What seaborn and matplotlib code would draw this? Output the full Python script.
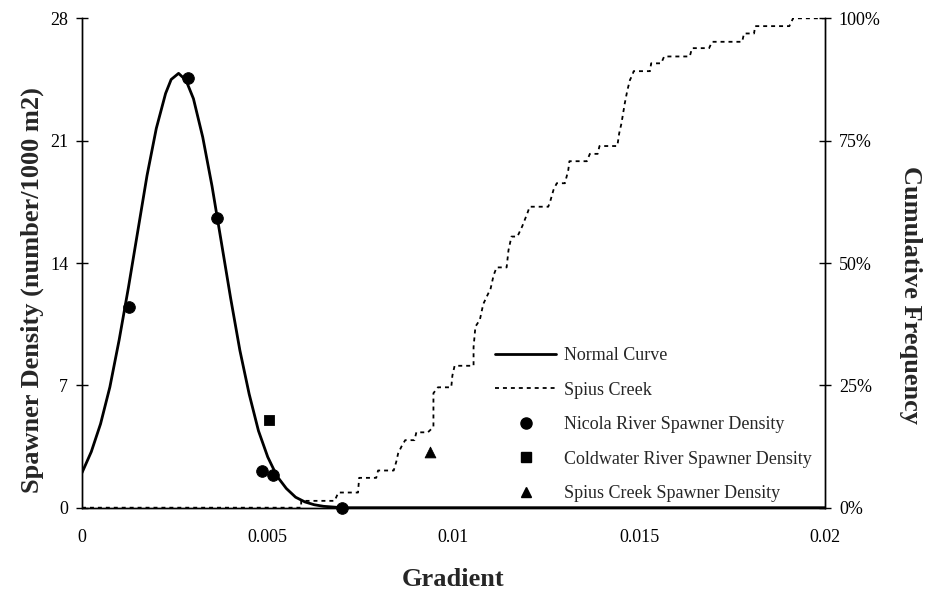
import matplotlib
matplotlib.use("Agg")
import matplotlib.pyplot as plt
import seaborn as sns
import pandas as pd
from matplotlib.lines import Line2D
from matplotlib.ticker import FuncFormatter

# ---------------- data ----------------
normal_x = [0, 0.00025, 0.0005, 0.00075, 0.001, 0.00125, 0.0015, 0.00175, 0.002,
            0.00225, 0.0024, 0.0026, 0.0028, 0.003, 0.00325, 0.0035, 0.00375, 0.004,
            0.00425, 0.0045, 0.00475, 0.005, 0.00525, 0.0055, 0.00575, 0.006,
            0.00625, 0.0065, 0.00675, 0.007, 0.02]
normal_y = [2.0, 3.2, 4.8, 6.9, 9.6, 12.6, 15.8, 19.0, 21.7,
            23.7, 24.5, 24.85, 24.45, 23.4, 21.2, 18.4, 15.2, 12.0,
            9.0, 6.5, 4.4, 2.9, 1.8, 1.1, 0.6, 0.33,
            0.17, 0.08, 0.04, 0.0, 0.0]

spius_gradient = [0, 0.0059, 0.0059, 0.0068, 0.0069, 0.00743, 0.00746, 0.00792, 0.00797, 0.00839,
                  0.00846, 0.00851, 0.0086, 0.0087, 0.00895, 0.0090, 0.00931, 0.00946, 0.00946, 0.00958,
                  0.00994, 0.00997, 0.01003, 0.01054, 0.01054, 0.01059, 0.01071, 0.0108, 0.011, 0.01108,
                  0.01116, 0.01143, 0.01148, 0.01156, 0.01172, 0.01185, 0.01199, 0.01205, 0.01255, 0.0126,
                  0.01269, 0.01278, 0.013, 0.01309, 0.01312, 0.01359, 0.01367, 0.01388, 0.01393, 0.01441,
                  0.01446, 0.01452, 0.01461, 0.01468, 0.01475, 0.01482, 0.01485, 0.01529, 0.01532, 0.01559,
                  0.01567, 0.01636, 0.01642, 0.01688, 0.01696, 0.01777, 0.01782, 0.01809, 0.01812, 0.01904,
                  0.01914, 0.02]
spius_cum_pct = [0, 0, 1.4, 1.4, 3.1, 3.1, 6.1, 6.1, 7.6, 7.6,
                 9.4, 11.1, 12.5, 13.8, 13.8, 15.4, 15.4, 16.5, 23.4, 24.6,
                 24.6, 27, 29, 29, 32.8, 37, 38.4, 41.6, 44.8, 47.5,
                 49.1, 49.1, 52.6, 55.4, 55.4, 57.5, 60.2, 61.5, 61.5, 62.5,
                 64.9, 66.3, 66.3, 69, 70.8, 70.8, 72.3, 72.3, 73.9, 73.9,
                 76.5, 78.5, 82.6, 85.3, 87.4, 88.5, 89.2, 89.2, 90.8, 90.8,
                 92.2, 92.2, 93.9, 93.9, 95.2, 95.2, 96.9, 96.9, 98.4, 98.4,
                 100, 100]

nicola_x = [0.00126, 0.00284, 0.00364, 0.00484, 0.00514, 0.0070]
nicola_y = [11.5, 24.6, 16.6, 2.1, 1.87, 0.0]
coldwater_x = [0.00504]
coldwater_y = [5.03]
spius_pt_x = [0.00938]
spius_pt_y = [3.17]

x_ticks = [0, 0.005, 0.01, 0.015, 0.02]
x_tick_labels = ["0", "0.005", "0.01", "0.015", "0.02"]
y_ticks = [0, 7, 14, 21, 28]
y2_ticks = [0, 25, 50, 75, 100]

# ---------------- style ----------------
sns.set_style("white")
plt.rcParams["font.family"] = ["Liberation Serif", "DejaVu Serif"]
plt.rcParams["font.size"] = 13

fig = plt.figure(figsize=(9.29, 5.95), dpi=100)
ax = fig.add_axes([82 / 929, 1 - 507.7 / 595, (825 - 82) / 929, (507.7 - 18.3) / 595])
ax2 = ax.twinx()

df_norm = pd.DataFrame({"x": normal_x, "y": normal_y})
df_sp = pd.DataFrame({"x": spius_gradient, "y": spius_cum_pct})

sns.lineplot(data=df_sp, x="x", y="y", ax=ax2, sort=False, estimator=None,
             color="black", linewidth=1.3, linestyle=(0, (2.2, 2.2)))
sns.lineplot(data=df_norm, x="x", y="y", ax=ax, sort=False, estimator=None,
             color="black", linewidth=2.0)
sns.scatterplot(x=nicola_x, y=nicola_y, ax=ax, color="black", marker="o", s=70,
                edgecolor="black", zorder=5, clip_on=False)
sns.scatterplot(x=coldwater_x, y=coldwater_y, ax=ax, color="black", marker="s", s=55,
                edgecolor="black", zorder=5)
sns.scatterplot(x=spius_pt_x, y=spius_pt_y, ax=ax, color="black", marker="^", s=60,
                edgecolor="black", zorder=5)

# primary axis on top so markers/curve show over the dotted line
ax.set_zorder(ax2.get_zorder() + 1)
ax.patch.set_visible(False)

ax.set_xlim(0, 0.02)
ax.set_ylim(0, 28)
ax2.set_ylim(0, 100)
ax.set_xticks(x_ticks)
ax.set_xticklabels(x_tick_labels)
ax.set_yticks(y_ticks)
ax2.set_yticks(y2_ticks)
ax2.yaxis.set_major_formatter(FuncFormatter(lambda v, p: f"{v:.0f}%"))

for a in (ax, ax2):
    a.tick_params(direction="inout", length=8, width=1, labelsize=13, colors="black")
    for s in a.spines.values():
        s.set_color("black")
        s.set_linewidth(1)
    a.spines["top"].set_visible(False)
ax.tick_params(axis="x", pad=11)
ax.tick_params(axis="y", pad=6)
ax2.tick_params(axis="y", pad=6)

ax.set_xlabel("Gradient", fontsize=19, fontweight="bold", va="center")
ax.xaxis.set_label_coords(0.5, (507.7 - 580) / 489.4)
ax.set_ylabel("Spawner Density (number/1000 m2)", fontsize=19, fontweight="bold", va="center")
ax.yaxis.set_label_coords((32 - 82) / 743, (507.7 - 290) / 489.4)
ax2.set_ylabel("Cumulative Frequency", fontsize=19, fontweight="bold", rotation=270, va="center")
ax2.yaxis.set_label_coords((911 - 82) / 743, (507.7 - 295) / 489.4)

handles = [
    Line2D([], [], color="black", linewidth=2.0),
    Line2D([], [], color="black", linewidth=1.3, linestyle=(0, (2.2, 2.2))),
    Line2D([], [], color="black", marker="o", linestyle="none", markersize=8),
    Line2D([], [], color="black", marker="s", linestyle="none", markersize=7),
    Line2D([], [], color="black", marker="^", linestyle="none", markersize=7.5),
]
labels = ["Normal Curve", "Spius Creek", "Nicola River Spawner Density",
          "Coldwater River Spawner Density", "Spius Creek Spawner Density"]
leg = ax.legend(handles, labels, loc="upper left", frameon=False,
                bbox_to_anchor=(495 / 929, 1 - 347 / 595), bbox_transform=fig.transFigure,
                borderpad=0, borderaxespad=0, handlelength=3.4, handletextpad=0.4,
                labelspacing=0.97, fontsize=13)

fig.savefig("out.png", dpi=100)
